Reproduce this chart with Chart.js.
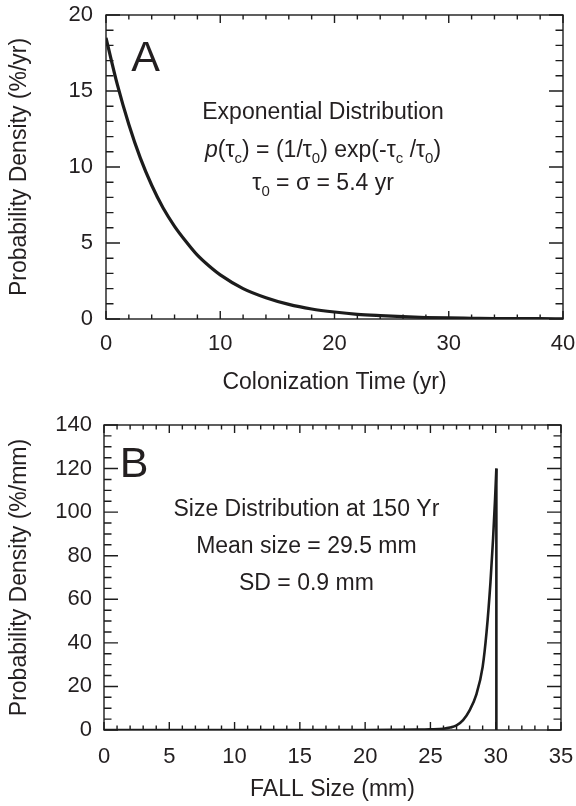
<!DOCTYPE html>
<html>
<head>
<meta charset="utf-8">
<script src="https://cdn.jsdelivr.net/npm/chart.js@4.4.1/dist/chart.umd.min.js"></script>
<style>
  body { margin: 0; background: #fff; }
  canvas { position: absolute; left: 0; }
</style>
</head>
<body>
<canvas id="chartA" width="576" height="403" style="top:0"></canvas>
<canvas id="chartB" width="576" height="403" style="top:403px"></canvas>
<script>
// A: exponential colonization time
const colonTime = [0, 1, 2, 3, 4, 5, 6, 7, 8, 9, 10, 12, 14, 16, 18, 20, 22, 24, 26, 28, 30, 32, 34, 36, 38, 40]
const colonDensity = [18.5, 15.4, 12.8, 10.6, 8.8, 7.3, 6.1, 5.1, 4.2, 3.5, 2.9, 2.0, 1.4, 0.96, 0.66, 0.46, 0.31, 0.22, 0.15, 0.1, 0.07, 0.05, 0.03, 0.02, 0.02, 0.01]
const colonXTicks = [0, 10, 20, 30, 40]
const colonYTicks = [0, 5, 10, 15, 20]

// B: size distribution at 150 yr
const fallSize = [0, 5, 10, 15, 20, 22, 24, 25, 26, 26.5, 27, 27.5, 28, 28.5, 29, 29.3, 29.6, 29.8, 29.95, 30.05]
const fallDensity = [0, 0, 0, 0, 0, 0.05, 0.15, 0.3, 0.6, 1.1, 2.1, 4.5, 9, 16, 29, 45, 68, 88, 106, 120]
const dropSize = [30.05, 30.05]
const dropDensity = [120, 0]
const fallXTicks = [0, 5, 10, 15, 20, 25, 30, 35]
const fallYTicks = [0, 20, 40, 60, 80, 100, 120, 140]

const ink = '#1c1c1c'
const textInk = '#231f20'
const family = '"Liberation Sans", Arial, Helvetica, sans-serif'

const toPoints = (xs, ys) => xs.map((x, i) => ({ x: x, y: ys[i] }))

// 把文字片段依次画出（斜体、下标）
function drawRuns(ctx, runs, cx, cy, size) {
    const subSize = Math.round(size * 0.65)
    const fontOf = r => (r[1] === 'i' ? 'italic ' : '') + (r[1] === 's' ? subSize : size) + 'px ' + family
    let total = 0
    runs.forEach(r => { ctx.font = fontOf(r); total += ctx.measureText(r[0]).width })
    let x = cx - total / 2
    const base = cy + size * 0.35
    ctx.textAlign = 'left'
    ctx.textBaseline = 'alphabetic'
    runs.forEach(r => {
        ctx.font = fontOf(r)
        ctx.fillText(r[0], x, r[1] === 's' ? base + size * 0.27 : base)
        x += ctx.measureText(r[0]).width
    })
}

const isMajor = (v, step) => Math.abs(v / step - Math.round(v / step)) < 1e-6

// 边框、内向刻度和注释
const framePlugin = {
    id: 'frame',
    afterDraw(chart, args, opts) {
        const { ctx, chartArea: a, scales: { x, y } } = chart
        ctx.save()
        ctx.strokeStyle = ink
        ctx.lineWidth = 1.4
        ctx.strokeRect(a.left, a.top, a.right - a.left, a.bottom - a.top)
        ctx.beginPath()
        for (let v = x.min; v <= x.max + 1e-6; v += opts.xMinor) {
            const px = x.getPixelForValue(v)
            const len = isMajor(v, opts.xMajor) ? 8 : 4.5
            ctx.moveTo(px, a.bottom); ctx.lineTo(px, a.bottom - len)
            ctx.moveTo(px, a.top); ctx.lineTo(px, a.top + len)
        }
        for (let v = y.min; v <= y.max + 1e-6; v += opts.yMinor) {
            const py = y.getPixelForValue(v)
            const len = isMajor(v, opts.yMajor) ? 14 : 7.5
            ctx.moveTo(a.left, py); ctx.lineTo(a.left + len, py)
            ctx.moveTo(a.right, py); ctx.lineTo(a.right - len, py)
        }
        ctx.stroke()

        ctx.fillStyle = textInk
        ctx.font = '43px ' + family
        ctx.textAlign = 'left'
        ctx.textBaseline = 'alphabetic'
        ctx.fillText(opts.letter[0], x.getPixelForValue(opts.letter[1]), y.getPixelForValue(opts.letter[2]))

        const cx = x.getPixelForValue(opts.noteX)
        opts.notes.forEach((runs, i) => drawRuns(ctx, runs, cx, y.getPixelForValue(opts.noteY[i]), 23))
        ctx.restore()
    }
}

function xAxis(min, max, ticks, title, height, pad, titlePad) {
    return {
        type: 'linear', position: 'bottom', min: min, max: max,
        afterBuildTicks: s => { s.ticks = ticks.map(v => ({ value: v })) },
        afterFit: s => { s.height = height; s.paddingLeft = 0; s.paddingRight = 0 },
        grid: { display: false, drawTicks: false },
        border: { display: false },
        ticks: { font: { family: family, size: 22 }, color: textInk, padding: pad, maxRotation: 0, autoSkip: false },
        title: { display: true, text: title, font: { family: family, size: 23 }, color: textInk, padding: { top: 0, bottom: titlePad } }
    }
}

function yAxis(min, max, ticks, title, width, pad) {
    return {
        type: 'linear', position: 'left', min: min, max: max,
        afterBuildTicks: s => { s.ticks = ticks.map(v => ({ value: v })) },
        afterFit: s => { s.width = width; s.paddingTop = 0; s.paddingBottom = 0 },
        grid: { display: false, drawTicks: false },
        border: { display: false },
        ticks: { font: { family: family, size: 22 }, color: textInk, padding: pad },
        title: { display: true, text: title, font: { family: family, size: 23 }, color: textInk, padding: { top: 6, bottom: 0 } }
    }
}

const baseOptions = {
    responsive: false,
    animation: false,
    events: []
}

new Chart(document.getElementById('chartA'), {
    type: 'line',
    data: {
        datasets: [{
            data: toPoints(colonTime, colonDensity),
            borderColor: ink, borderWidth: 3.2, pointRadius: 0,
            cubicInterpolationMode: 'monotone', fill: false
        }]
    },
    options: {
        ...baseOptions,
        layout: { padding: { top: 15, right: 13, left: 0, bottom: 0 } },
        plugins: {
            legend: { display: false },
            tooltip: { enabled: false },
            frame: {
                xMinor: 2, xMajor: 10, yMinor: 1, yMajor: 5,
                letter: ['A', 2.2, 16.3],
                noteX: 19.0,
                noteY: [13.7, 11.2, 9.0],
                notes: [
                    [['Exponential Distribution']],
                    [['p', 'i'], ['(τ'], ['c', 's'], [') = (1/τ'], ['0', 's'], [') exp(-τ'], ['c', 's'], [' /τ'], ['0', 's'], [')']],
                    [['τ'], ['0', 's'], [' = σ = 5.4 yr']]
                ]
            }
        },
        scales: {
            x: xAxis(0, 40, colonXTicks, 'Colonization Time (yr)', 84, 12, 7),
            y: yAxis(0, 20, colonYTicks, 'Probability Density (%/yr)', 106, 13)
        }
    },
    plugins: [framePlugin]
})

new Chart(document.getElementById('chartB'), {
    type: 'line',
    data: {
        datasets: [{
            data: toPoints(fallSize, fallDensity),
            borderColor: ink, borderWidth: 2.6, pointRadius: 0,
            cubicInterpolationMode: 'monotone', fill: false
        }, {
            data: toPoints(dropSize, dropDensity),
            borderColor: ink, borderWidth: 2.6, pointRadius: 0,
            tension: 0, fill: false
        }]
    },
    options: {
        ...baseOptions,
        layout: { padding: { top: 22, right: 15, left: 0, bottom: 0 } },
        plugins: {
            legend: { display: false },
            tooltip: { enabled: false },
            frame: {
                xMinor: 1, xMajor: 5, yMinor: 5, yMajor: 20,
                letter: ['B', 1.2, 116],
                noteX: 15.5,
                noteY: [101.9, 84.9, 67.9],
                notes: [
                    [['Size Distribution at 150 Yr']],
                    [['Mean size = 29.5 mm']],
                    [['SD = 0.9 mm']]
                ]
            }
        },
        scales: {
            x: xAxis(0, 35, fallXTicks, 'FALL Size (mm)', 76, 14, 3),
            y: yAxis(0, 140, fallYTicks, 'Probability Density (%/mm)', 104, 12)
        }
    },
    plugins: [framePlugin]
})
</script>
</body>
</html>
